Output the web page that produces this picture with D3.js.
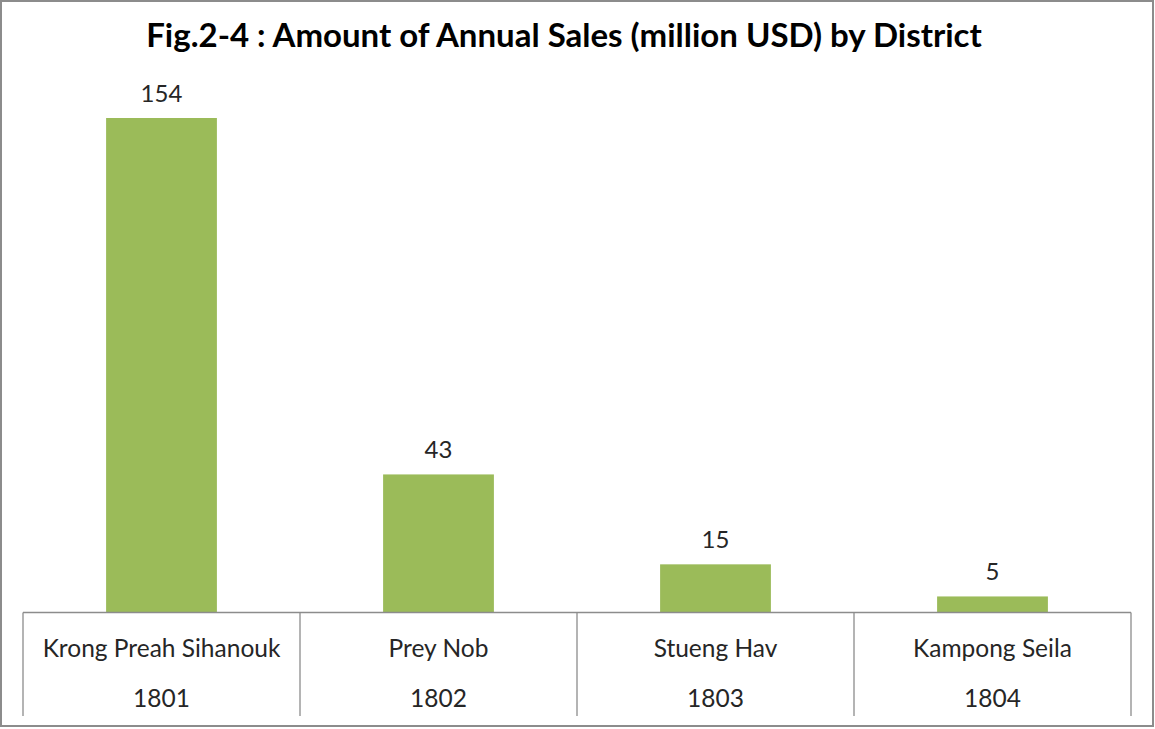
<!DOCTYPE html>
<html>
<head>
<meta charset="utf-8">
<script src="https://cdn.jsdelivr.net/npm/d3@7"></script>
<style>
  body { margin: 0; background: #fff; }
  svg text { font-family: Lato, "Open Sans", sans-serif; fill: #262626; }
</style>
</head>
<body>
<div id="chart"></div>
<script>
const districts = ['Krong Preah Sihanouk', 'Prey Nob', 'Stueng Hav', 'Kampong Seila'];
const codes = ['1801', '1802', '1803', '1804'];
const sales = [154, 43, 15, 5];
const title = 'Fig.2-4 : Amount of Annual Sales (million USD) by District';

const W = 1155, H = 729;
const margin = { left: 23, right: 24, base: 612.5, top: 118 };

const svg = d3.select('#chart').append('svg')
  .attr('width', W).attr('height', H);

// outer frame
svg.append('rect')
  .attr('x', 1).attr('y', 1).attr('width', W - 3).attr('height', H - 4)
  .attr('fill', '#fff').attr('stroke', '#8c8c8c').attr('stroke-width', 2);

svg.append('text')
  .attr('x', 564).attr('y', 47)
  .attr('text-anchor', 'middle')
  .style('font-weight', 'bold').style('font-size', '33px').style('fill', '#000')
  .text(title);

const x = d3.scaleBand().domain(districts)
  .range([margin.left, W - margin.right]).paddingInner(0).paddingOuter(0);
const inner = 0.6; // gap share inside a category
const y = d3.scaleLinear().domain([0, d3.max(sales)]).range([margin.base, margin.top]);

const data = districts.map((d, i) => ({ name: d, code: codes[i], v: sales[i] }));

svg.selectAll('.bar').data(data).enter().append('rect')
  .attr('class', 'bar')
  .attr('x', d => x(d.name) + x.bandwidth() * inner / 2)
  .attr('width', x.bandwidth() * (1 - inner))
  .attr('y', d => y(d.v))
  .attr('height', d => margin.base - y(d.v))
  .attr('fill', '#9bbb59');

svg.selectAll('.val').data(data).enter().append('text')
  .attr('class', 'val')
  .attr('x', d => x(d.name) + x.bandwidth() / 2)
  .attr('y', d => y(d.v) - 16)
  .attr('text-anchor', 'middle')
  .style('font-size', '24px')
  .text(d => d.v);

// table-style category axis
const g = svg.append('g');
g.append('line')
  .attr('x1', margin.left).attr('x2', W - margin.right)
  .attr('y1', margin.base).attr('y2', margin.base)
  .attr('stroke', '#8c8c8c').attr('stroke-width', 1.3);

const edges = districts.map(d => x(d)).concat([x.range()[1]]);
g.selectAll('.sep').data(edges).enter().append('line')
  .attr('x1', d => d).attr('x2', d => d)
  .attr('y1', margin.base).attr('y2', 716)
  .attr('stroke', '#8c8c8c').attr('stroke-width', 1.3);

g.selectAll('.cat').data(data).enter().append('text')
  .attr('x', d => x(d.name) + x.bandwidth() / 2)
  .attr('y', 657)
  .attr('text-anchor', 'middle')
  .style('font-size', '24.5px')
  .text(d => d.name);

g.selectAll('.code').data(data).enter().append('text')
  .attr('x', d => x(d.name) + x.bandwidth() / 2)
  .attr('y', 707)
  .attr('text-anchor', 'middle')
  .style('font-size', '24.5px')
  .text(d => d.code);
</script>
</body>
</html>
